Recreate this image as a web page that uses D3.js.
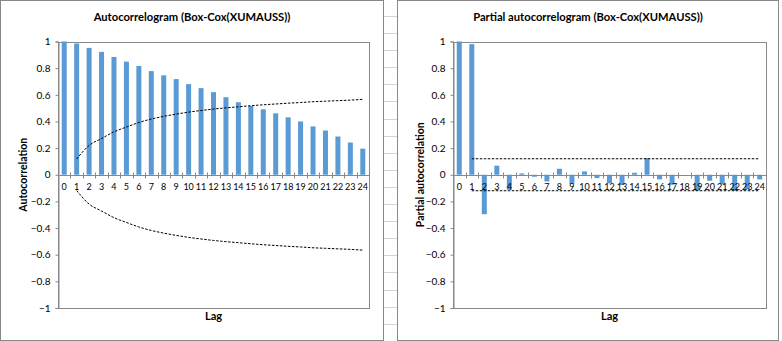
<!DOCTYPE html>
<html><head><meta charset="utf-8">
<script src="https://cdn.jsdelivr.net/npm/d3@7/dist/d3.min.js"></script>
<style>
body{margin:0;background:#fff}
svg{display:block}
text{font-family:Lato,'Liberation Sans',sans-serif;fill:#000}
</style>
</head><body>
<svg id="c" width="782" height="341"></svg>
<script>
// ---- data ----
const lags = ["0","1","2","3","4","5","6","7","8","9","10","11","12","13","14","15","16","17","18","19","20","21","22","23","24"];
const acfValues = [1, 0.985, 0.952, 0.922, 0.884, 0.849, 0.816, 0.778, 0.746, 0.718, 0.680, 0.650, 0.620, 0.582, 0.544, 0.516, 0.491, 0.461, 0.431, 0.400, 0.363, 0.332, 0.287, 0.242, 0.196];
// confidence band, lags 1..24
const bandLags = ["1","2","3","4","5","6","7","8","9","10","11","12","13","14","15","16","17","18","19","20","21","22","23","24"];
const acfBandUpper = [0.118, 0.22, 0.272, 0.322, 0.358, 0.392, 0.418, 0.438, 0.455, 0.47, 0.482, 0.493, 0.502, 0.51, 0.518, 0.525, 0.531, 0.537, 0.542, 0.548, 0.552, 0.556, 0.56, 0.566];
const acfBandLower = [-0.118, -0.22, -0.272, -0.322, -0.358, -0.392, -0.418, -0.438, -0.455, -0.47, -0.482, -0.493, -0.502, -0.51, -0.518, -0.525, -0.531, -0.537, -0.542, -0.548, -0.552, -0.556, -0.56, -0.566];
const pacfValues = [1, 0.98, -0.296, 0.068, -0.113, 0.01, -0.015, -0.05, 0.045, -0.07, 0.025, -0.025, -0.065, -0.077, 0.015, 0.125, -0.035, -0.075, 0, -0.12, -0.045, -0.072, -0.12, -0.107, -0.035];
const pacfBandUpper = [0.12,0.12,0.12,0.12,0.12,0.12,0.12,0.12,0.12,0.12,0.12,0.12,0.12,0.12,0.12,0.12,0.12,0.12,0.12,0.12,0.12,0.12,0.12,0.12];
const pacfBandLower = [-0.12,-0.12,-0.12,-0.12,-0.12,-0.12,-0.12,-0.12,-0.12,-0.12,-0.12,-0.12,-0.12,-0.12,-0.12,-0.12,-0.12,-0.12,-0.12,-0.12,-0.12,-0.12,-0.12,-0.12];
const yTicks = [1, 0.8, 0.6, 0.4, 0.2, 0, -0.2, -0.4, -0.6, -0.8, -1];
const titles = ["Autocorrelogram (Box-Cox(XUMAUSS))", "Partial autocorrelogram (Box-Cox(XUMAUSS))"];
const yTitles = ["Autocorrelation", "Partial autocorrelation"];
const xTitle = "Lag";

// ---- drawing ----
const svg = d3.select("#c");
const BAR = "#5B9BD5", BORDER = "#888888", GRID = "#d4d4d4";

// spreadsheet strip between the two charts
svg.selectAll("line.sheet").data(d3.range(-1.2, 341, 17.1)).enter().append("line")
  .attr("x1",383).attr("x2",397).attr("y1",d=>Math.round(d)+0.5).attr("y2",d=>Math.round(d)+0.5)
  .attr("stroke",GRID);

function panel(frame, plot, title, yTitle, values, bandU, bandL){
  const g = svg.append("g");
  g.append("rect").attr("x",frame.x+0.5).attr("y",frame.y+0.5).attr("width",frame.w-1).attr("height",frame.h-1)
    .attr("fill","#fff").attr("stroke",BORDER);
  const xb = d3.scaleBand().domain(lags).range([plot.x0, plot.x1]);
  const y = d3.scaleLinear().domain([-1,1]).range([plot.y1, plot.y0]);

  // plot border
  g.append("rect").attr("x",plot.x0+0.5).attr("y",Math.round(y(1))+0.5)
    .attr("width",plot.x1-plot.x0).attr("height",Math.round(y(-1))-Math.round(y(1)))
    .attr("fill","none").attr("stroke",BORDER);

  // bars
  g.selectAll("rect.bar").data(values).enter().append("rect")
    .attr("x",(d,i)=>xb(lags[i])+xb.bandwidth()/2-2.5)
    .attr("width",5)
    .attr("y",d=>y(Math.max(0,d)))
    .attr("height",d=>Math.abs(y(d)-y(0)))
    .attr("fill",BAR);

  // y axis
  const ya = d3.axisLeft(y).tickValues(yTicks).tickSize(3).tickPadding(5)
    .tickFormat(d=>d===0?"0":d3.format("")(+d.toFixed(1)));
  const yg = g.append("g").attr("transform",`translate(${plot.x0+0.5},0)`).call(ya);
  yg.select(".domain").attr("stroke",BORDER);
  yg.selectAll(".tick line").attr("stroke",BORDER);
  yg.selectAll("text").style("font-size","10px").attr("fill","#000");

  // x axis at zero with crossing tick marks at category boundaries
  const y0 = Math.round(y(0))+0.5;
  g.append("line").attr("x1",plot.x0).attr("x2",plot.x1).attr("y1",y0).attr("y2",y0).attr("stroke",BORDER);
  g.selectAll("line.xt").data(lags.slice(1)).enter().append("line")
    .attr("x1",d=>Math.round(xb(d))+0.5)
    .attr("x2",d=>Math.round(xb(d))+0.5)
    .attr("y1",y0-3).attr("y2",y0+3).attr("stroke",BORDER);
  g.selectAll("text.xl").data(lags).enter().append("text")
    .attr("x",d=>xb(d)+xb.bandwidth()/2).attr("y",y0+14)
    .attr("text-anchor","middle").style("font-size","9px").text(d=>d);

  // confidence bands
  const line = d3.line().x((d,i)=>xb(bandLags[i])+xb.bandwidth()/2).y(d=>y(d)).curve(d3.curveMonotoneX);
  [bandU, bandL].forEach(b=>{
    g.append("path").attr("d",line(b)).attr("fill","none").attr("stroke","#000")
      .attr("stroke-width",1).attr("stroke-dasharray","2.5,1.5");
  });

  // titles
  g.append("text").attr("x",frame.x+frame.w/2).attr("y",21).attr("text-anchor","middle")
    .style("font-size","11.2px").style("font-weight","bold").text(title);
  g.append("text").attr("transform",`translate(${frame.x+27},${(y(1)+y(-1))/2}) rotate(-90)`)
    .attr("text-anchor","middle").style("font-size","10.5px").style("font-weight","bold").text(yTitle);
  g.append("text").attr("x",(plot.x0+plot.x1)/2).attr("y",320).attr("text-anchor","middle")
    .style("font-size","11px").style("font-weight","bold").text(xTitle);
}

panel({x:0,y:0,w:384,h:341},{x0:58,x1:369,y0:41.5,y1:308},titles[0],yTitles[0],acfValues,acfBandUpper,acfBandLower);
panel({x:397,y:0,w:382,h:341},{x0:453,x1:766,y0:41.5,y1:308},titles[1],yTitles[1],pacfValues,pacfBandUpper,pacfBandLower);
</script>
</body></html>
